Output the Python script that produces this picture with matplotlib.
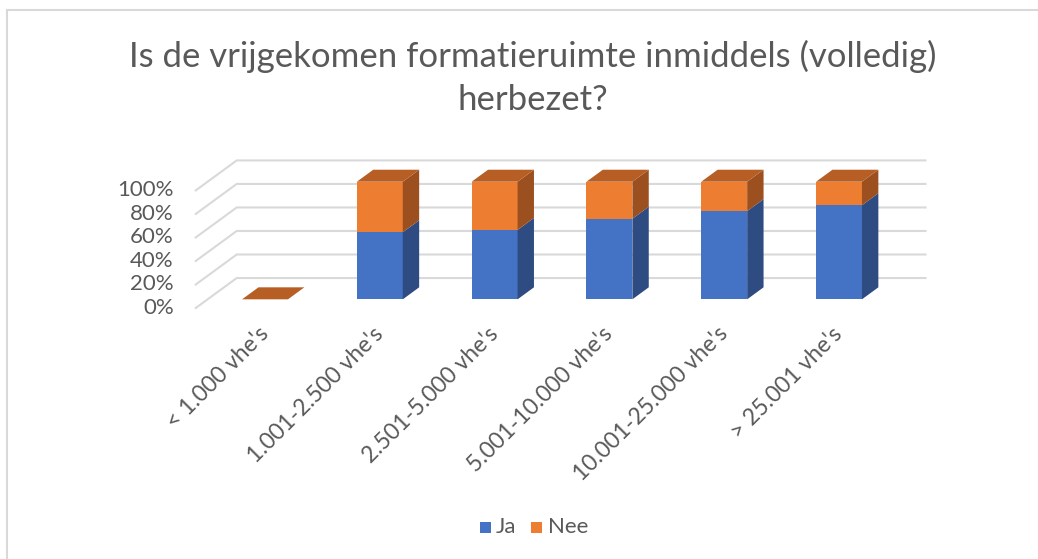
import matplotlib.pyplot as plt
import matplotlib.transforms as mtransforms
from matplotlib.patches import Polygon

categories = ["< 1.000 vhe's", "1.001-2.500 vhe's", "2.501-5.000 vhe's",
              "5.001-10.000 vhe's", "10.001-25.000 vhe's", "> 25.001 vhe's"]
ja = [0, 57, 59, 68.5, 75, 80]
nee = [0, 43, 41, 31.5, 25, 20]
yticks = [0, 20, 40, 60, 80, 100]
title = "Is de vrijgekomen formatieruimte inmiddels (volledig)\nherbezet?"

plt.rcParams['font.family'] = ['Lato', 'DejaVu Sans']
txt = '#595959'
grid = '#d9d9d9'

fig = plt.figure(figsize=(10.38, 5.59), dpi=100)
ax = fig.add_axes([0, 0, 1, 1])
ax.set_xlim(-2.205, 6.837)
ax.set_ylim(-213.4, 261.9)
ax.axis('off')

# oblique depth offset for d in [0, 1] (front of floor -> back wall)
DX, DY = 0.357, 25.5


def off(x, y, d):
    return (x + DX * d, y + DY * d)


# walls + y tick labels
lab_tr = ax.transData + mtransforms.ScaledTranslation(-22 / 100, 0, fig.dpi_scale_trans)
for v in yticks:
    ax.plot([-0.5, -0.5 + DX, 5.5 + DX], [v, v + DY, v + DY], color=grid, lw=1.5, zorder=1)
    ax.text(-0.5, v, f"{v}%", ha='right', va='center', fontsize=16, color=txt, transform=lab_tr)

# bars
w = 0.4
d0, d1 = 0.29, 0.69
blue, blue_side = '#4472c4', '#2e4b82'
orange, orange_side, orange_top = '#ed7d31', '#9c501f', '#b65e24'

for i in range(len(categories)):
    xl, xr = i - w / 2, i + w / 2
    base = 0
    for val, fc, sc in [(ja[i], blue, blue_side), (nee[i], orange, orange_side)]:
        if val <= 0:
            continue
        y0, y1 = base, base + val
        front = [off(xl, y0, d0), off(xr, y0, d0), off(xr, y1, d0), off(xl, y1, d0)]
        side = [off(xr, y0, d0), off(xr, y0, d1), off(xr, y1, d1), off(xr, y1, d0)]
        ax.add_patch(Polygon(front, closed=True, facecolor=fc, edgecolor='none', zorder=3))
        ax.add_patch(Polygon(side, closed=True, facecolor=sc, edgecolor='none', zorder=3))
        base = y1
    top = [off(xl, base, d0), off(xr, base, d0), off(xr, base, d1), off(xl, base, d1)]
    ax.add_patch(Polygon(top, closed=True, facecolor=orange_top, edgecolor='none', zorder=4))

# category labels
for i, c in enumerate(categories):
    ax.text(i + 0.04, -13, c, rotation=45, ha='right', va='top', rotation_mode='anchor',
            fontsize=16.5, color=txt)

# title
fig.text(0.513, 0.928, title, ha='center', va='top', fontsize=25, color=txt,
         linespacing=1.42)

# legend
fig.patches.append(plt.Rectangle((480 / 1038, 1 - 533 / 559), 11 / 1038, 11 / 559,
                                 transform=fig.transFigure, facecolor=blue, edgecolor='none'))
fig.text(496 / 1038, 1 - 527 / 559, "Ja", ha='left', va='center', fontsize=16, color=txt)
fig.patches.append(plt.Rectangle((531 / 1038, 1 - 533 / 559), 11 / 1038, 11 / 559,
                                 transform=fig.transFigure, facecolor=orange, edgecolor='none'))
fig.text(548 / 1038, 1 - 527 / 559, "Nee", ha='left', va='center', fontsize=16, color=txt)

# chart border (top and left visible)
fig.add_artist(plt.Line2D([7 / 1038, 7 / 1038], [0, 1 - 10 / 559], color=grid, lw=1.5,
                          transform=fig.transFigure))
fig.add_artist(plt.Line2D([7 / 1038, 1], [1 - 10 / 559, 1 - 10 / 559], color=grid, lw=1.5,
                          transform=fig.transFigure))

fig.savefig('out.png', dpi=100, facecolor='white')
